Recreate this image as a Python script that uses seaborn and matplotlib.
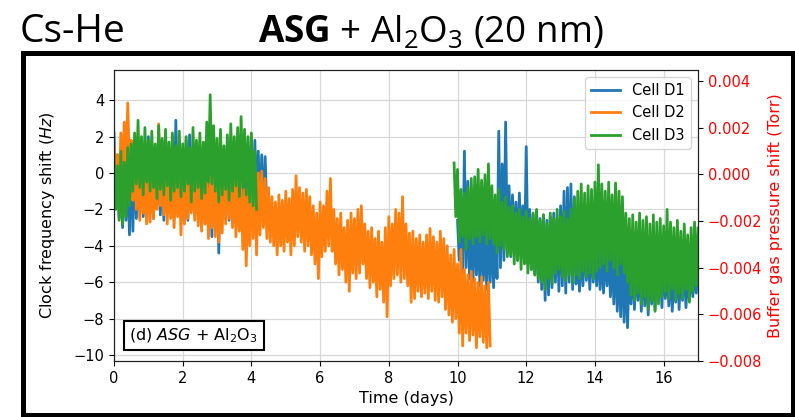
import numpy as np
import pandas as pd
import matplotlib
matplotlib.use("Agg")
import matplotlib.pyplot as plt
import matplotlib.font_manager as fm
from matplotlib.patches import Rectangle
from matplotlib.lines import Line2D
import seaborn as sns

# ---------------- data (upper / lower envelope read every 0.1 day) ----------------
cells = ["Cell D1", "Cell D2", "Cell D3"]
colors = ["#1f77b4", "#ff7f0e", "#2ca02c"]
step = 0.1

# Cell D1, segment 1 starts at day 0.0
d1a_start = 0.0
d1a_hi = [2.2, 1.0, 0.5, 0.8, 0.4, 1.0, 1.5, 1.2, 1.8, 1.5,
          2.0, 1.4, 1.2, 1.5, 1.8, 1.6, 1.3, 2.0, 2.9, 1.5,
          1.2, 1.8, 2.1, 1.4, 1.0, 1.3, 1.6, 1.2, 1.0, 1.4,
          0.8, 1.5, 1.2, 1.0, 1.5, 1.3, 1.8, 1.2, 1.6, 1.0,
          1.5, 1.8, 1.2, 1.0, 0.9]
d1a_lo = [-1.5, -2.5, -3.0, -2.6, -3.4, -3.2, -2.5, -2.0, -2.4, -1.8,
          -2.0, -2.5, -1.8, -2.3, -2.6, -2.0, -2.2, -2.5, -1.5, -2.0,
          -2.3, -2.6, -2.0, -1.8, -2.2, -2.5, -2.8, -3.0, -3.5, -3.0,
          -4.4, -2.5, -2.2, -2.6, -2.0, -2.4, -2.0, -2.5, -2.2, -2.8,
          -2.0, -1.8, -2.4, -2.7, -2.2]
# Cell D1, segment 2 starts at day 10.0
d1b_start = 10.0
d1b_hi = [-2.6, -2.8, 1.2, -0.45, -2.5, -2.2, -2.8, -2.4, -3.0, -2.6,
          -2.9, -2.2, 2.3, 0.5, 2.8, -0.7, -1.2, -1.6, -1.1, -1.8,
          1.45, -2.0, -2.3, -2.1, -2.5, -2.3, -2.6, -2.4, -2.2, -2.5,
          -1.8, -1.0, -0.8, -0.6, -1.3, -3.5, -3.8, -3.4, -4.0, -3.6,
          -4.2, -3.9, -4.3, -3.8, -4.0, -4.4, -4.1, -4.6, -4.3, -4.7,
          -4.4, -4.8, -4.5, -4.9, -4.6, -5.0, -4.7, -5.2, -4.8, -5.0,
          -4.7, -5.2, -4.9, -5.4, -5.0, -5.3, -4.9, -5.5, -5.1, -5.4,
          -5.0]
d1b_lo = [-4.8, -5.5, -5.2, -5.8, -6.0, -5.6, -6.2, -5.9, -6.4, -6.0,
          -6.3, -5.8, -5.2, -4.8, -4.4, -4.6, -4.2, -4.8, -4.5, -4.9,
          -5.0, -5.3, -5.6, -6.0, -6.4, -7.0, -6.7, -6.3, -6.0, -6.5,
          -6.2, -6.6, -6.0, -6.4, -6.1, -6.5, -6.2, -5.9, -6.4, -6.0,
          -6.2, -6.4, -6.6, -6.2, -6.8, -7.2, -7.6, -7.9, -8.2, -8.5,
          -7.2, -7.5, -7.0, -7.6, -7.3, -7.8, -7.2, -7.5, -7.0, -7.4,
          -6.9, -7.3, -7.6, -7.1, -7.5, -7.0, -7.4, -7.0, -6.8, -6.6,
          -6.4]

# Cell D2 starts at day 0.0
d2_start = 0.0
d2_hi = [1.5, 1.0, 2.2, 2.8, 3.85, 1.8, 0.2, -0.2, 0.3, -0.4,
         0.2, -0.3, 0.5, 2.7, 0.4, -0.2, 0.1, -0.5, 0.0, -0.3,
         0.3, 0.0, 0.4, -0.2, 0.2, -0.4, 0.0, -0.5, -0.2, 0.3,
         -0.6, 0.0, 0.6, 1.4, 0.2, -0.4, 0.0, -0.6, -0.9, -0.3,
         0.1, 0.3, 0.0, 0.1, -0.3, -0.8, -1.3, -1.6, -1.2, -1.5,
         -1.0, -1.4, -0.9, -0.15, -0.8, -1.1, -0.9, -1.3, -1.8, -2.2,
         -1.6, -1.8, -1.0, -0.3, -2.0, -2.5, -2.2, -3.0, -2.6, -2.2,
         -2.5, -2.0, -1.8, -2.8, -3.2, -3.0, -3.6, -3.2, -3.8, -3.0,
         -2.4, -2.8, -2.0, -2.2, -1.3, -2.8, -3.3, -3.2, -3.6, -3.4,
         -3.8, -3.4, -3.05, -3.5, -3.8, -3.2, -3.6, -4.0, -4.5, -4.2,
         -5.0, -4.2, -5.3, -5.6, -5.4, -5.8, -6.0, -5.7, -6.2, -6.0]
d2_lo = [-0.5, -1.0, -0.6, 0.0, 0.3, -1.5, -2.0, -2.6, -2.2, -2.8,
         -2.7, -2.5, -2.0, -1.8, -2.3, -2.8, -2.5, -3.0, -2.4, -3.4,
         -2.8, -2.5, -2.2, -2.6, -2.9, -3.2, -2.8, -3.6, -3.0, -3.5,
         -3.8, -3.3, -2.8, -2.5, -3.0, -3.5, -3.2, -4.2, -5.1, -4.0,
         -3.6, -4.5, -3.4, -3.0, -3.6, -3.8, -4.0, -4.5, -4.0, -4.3,
         -3.8, -4.5, -4.0, -3.5, -3.8, -4.3, -4.0, -4.5, -5.0, -5.8,
         -4.6, -4.3, -4.0, -4.3, -5.0, -5.6, -5.3, -6.0, -6.5, -5.5,
         -5.8, -5.5, -5.0, -5.8, -6.3, -6.0, -6.8, -6.4, -7.1, -7.9,
         -6.2, -5.8, -5.6, -6.0, -5.8, -6.2, -7.1, -6.9, -6.5, -6.8,
         -6.6, -6.9, -6.5, -7.0, -7.1, -6.8, -7.5, -7.8, -8.2, -8.0,
         -8.8, -9.5, -8.8, -9.2, -8.9, -9.6, -9.0, -9.3, -9.6, -9.5]

# Cell D3, segment 1 starts at day 0.0
d3a_start = 0.0
d3a_hi = [1.0, 0.4, 1.2, 0.6, 1.4, 1.6, 2.2, 2.9, 2.0, 2.5,
          1.8, 2.3, 1.6, 2.6, 1.9, 2.4, 1.7, 2.2, 1.5, 2.3,
          1.6, 2.0, 1.4, 2.5, 1.8, 2.2, 1.7, 2.8, 4.3, 2.6,
          1.9, 2.4, 1.5, 2.1, 2.7, 2.0, 2.5, 3.1, 2.4, 2.0,
          2.2, 1.2]
d3a_lo = [-2.0, -2.6, -2.8, -2.4, -1.8, -1.0, -0.6, -0.8, -1.2, -0.5,
          -1.0, -0.8, -1.4, -0.9, -1.2, -0.7, -1.5, -1.0, -0.8, -1.3,
          -1.0, -0.6, -1.6, -1.0, -0.8, -1.4, -1.1, -0.5, -0.6, -1.0,
          -1.6, -1.2, -0.9, -1.5, -1.0, -0.7, -1.3, -0.8, -1.2, -1.6,
          -1.8, -2.0]
# Cell D3, segment 2 starts at day 9.9
d3b_start = 9.9
d3b_hi = [0.55, 0.2, -0.9, -1.1, -0.8, -0.3, -0.2, 0.2, -0.4, -0.1,
          0.5, -0.7, -1.2, -0.9, -1.6, -1.3, -1.9, -1.8, -2.2, -2.0,
          -2.4, -2.1, -2.5, -2.2, -2.0, -2.6, -2.3, -2.8, -2.2, -2.5,
          -2.0, -2.4, -2.1, -2.5, -2.0, -1.4, -1.0, -0.6, -1.1, -0.7,
          -0.9, -0.5, 0.45, -0.6, -1.0, -0.5, -1.2, -0.55, -1.0, -1.3,
          -2.2, -2.5, -2.3, -2.7, -2.2, -2.6, -2.4, -2.8, -2.3, -2.7,
          -2.5, -2.9, -2.0, -2.7, -3.0, -2.6, -3.2, -2.8, -3.4, -3.0,
          -2.7, -3.0]
d3b_lo = [-2.4, -3.8, -3.5, -4.2, -3.6, -3.9, -3.5, -3.8, -3.4, -3.9,
          -3.6, -3.9, -4.4, -4.0, -4.2, -4.6, -4.5, -5.0, -4.8, -5.3,
          -5.0, -5.5, -5.3, -5.6, -5.8, -6.0, -6.4, -5.8, -6.1, -5.5,
          -5.3, -5.7, -5.9, -5.6, -6.0, -5.6, -5.8, -5.4, -5.7, -5.5,
          -5.8, -5.4, -5.2, -5.0, -5.4, -4.8, -5.2, -5.6, -5.0, -5.5,
          -6.0, -6.7, -7.0, -6.6, -7.2, -6.8, -7.5, -7.0, -7.6, -7.2,
          -6.8, -6.5, -6.9, -6.4, -7.0, -6.6, -6.9, -6.4, -7.1, -6.5,
          -6.2, -6.0]

segments = [
    ("Cell D1", "d1a", d1a_start, d1a_hi, d1a_lo),
    ("Cell D2", "d2", d2_start, d2_hi, d2_lo),
    ("Cell D3", "d3a", d3a_start, d3a_hi, d3a_lo),
    ("Cell D1", "d1b", d1b_start, d1b_hi, d1b_lo),
    ("Cell D3", "d3b", d3b_start, d3b_hi, d3b_lo),
]

xticks = [0, 2, 4, 6, 8, 10, 12, 14, 16]
yticks = [-10, -8, -6, -4, -2, 0, 2, 4]
y2ticks = [-0.008, -0.006, -0.004, -0.002, 0.000, 0.002, 0.004]

frames = []
for cell, seg, start, hi, lo in segments:
    t = start + step * np.arange(len(hi))
    x = np.column_stack([t, t + step / 2]).ravel()
    y = np.column_stack([hi, lo]).ravel()
    frames.append(pd.DataFrame({"t": x, "shift": y, "cell": cell, "seg": seg}))
df = pd.concat(frames, ignore_index=True)

# ---------------- fonts ----------------
avail = {f.name for f in fm.fontManager.ttflist}
title_font = "Liberation Sans Narrow" if "Liberation Sans Narrow" in avail else "Open Sans"
plt.rcParams["mathtext.rm"] = title_font
plt.rcParams["mathtext.bf"] = title_font + ":bold"
plt.rcParams["mathtext.it"] = title_font + ":italic"
plt.rcParams["font.family"] = ["DejaVu Sans"]

# ---------------- figure ----------------
W, H = 795, 417
fig = plt.figure(figsize=(W / 100, H / 100), dpi=100)
ax = fig.add_axes([114 / W, (H - 361) / H, 584 / W, 291 / H])

palette = dict(zip(cells, colors))
for cell in cells:
    sub = df[df["cell"] == cell]
    sns.lineplot(data=sub, x="t", y="shift", units="seg", estimator=None,
                 sort=False, color=palette[cell], lw=2.0, ax=ax, label=cell,
                 legend=False)

ax.set_xlim(0, 17)
ax.set_ylim(-10.33, 5.66)
ax.set_xticks(xticks)
ax.set_yticks(yticks)
ax.grid(True, color="#d8d8d8", lw=0.9)
ax.set_axisbelow(True)
ax.tick_params(labelsize=10.5)
ax.set_xlabel("Time (days)", fontsize=11.5)
ax.set_ylabel("Clock frequency shift ($Hz$)", fontsize=11.5)
ax.yaxis.set_label_coords(-0.097, 0.5)
for s in ax.spines.values():
    s.set_color("#222222")

ax2 = ax.twinx()
ax2.set_ylim(-0.008, 0.00447)
ax2.set_yticks(y2ticks)
ax2.tick_params(axis="y", labelcolor="red", labelsize=10.5)
ax2.set_ylabel("Buffer gas pressure shift (Torr)", color="red", fontsize=11.5)
ax2.yaxis.set_label_coords(1.12, 0.5)
for s in ax2.spines.values():
    s.set_color("#222222")

handles = [Line2D([], [], color=c, lw=2) for c in colors]
ax.legend(handles, cells, loc="upper right", fontsize=10.5, framealpha=0.8)

ax.text(0.026, 0.088, r"(d) $ASG$ + Al$_2$O$_3$", transform=ax.transAxes,
        fontsize=11.5, ha="left", va="center",
        bbox=dict(boxstyle="square,pad=0.35", fc="white", ec="black", lw=1.5))

# outer frame and titles
fig.patches.append(Rectangle((22.5 / W, (H - 414.5) / H), 770 / W, 362 / H,
                             transform=fig.transFigure, fill=False,
                             ec="black", lw=3.6, zorder=5))
fig.text(20 / W, 1 - 42 / H, "Cs-He", fontsize=28, family=title_font,
         va="baseline", ha="left")
fig.text(258 / W, 1 - 42 / H, r"$\mathbf{ASG}$ + Al$_2$O$_3$ (20 nm)",
         fontsize=26.5, family=title_font, math_fontfamily="custom",
         va="baseline", ha="left")

fig.savefig("out.png", dpi=100)
